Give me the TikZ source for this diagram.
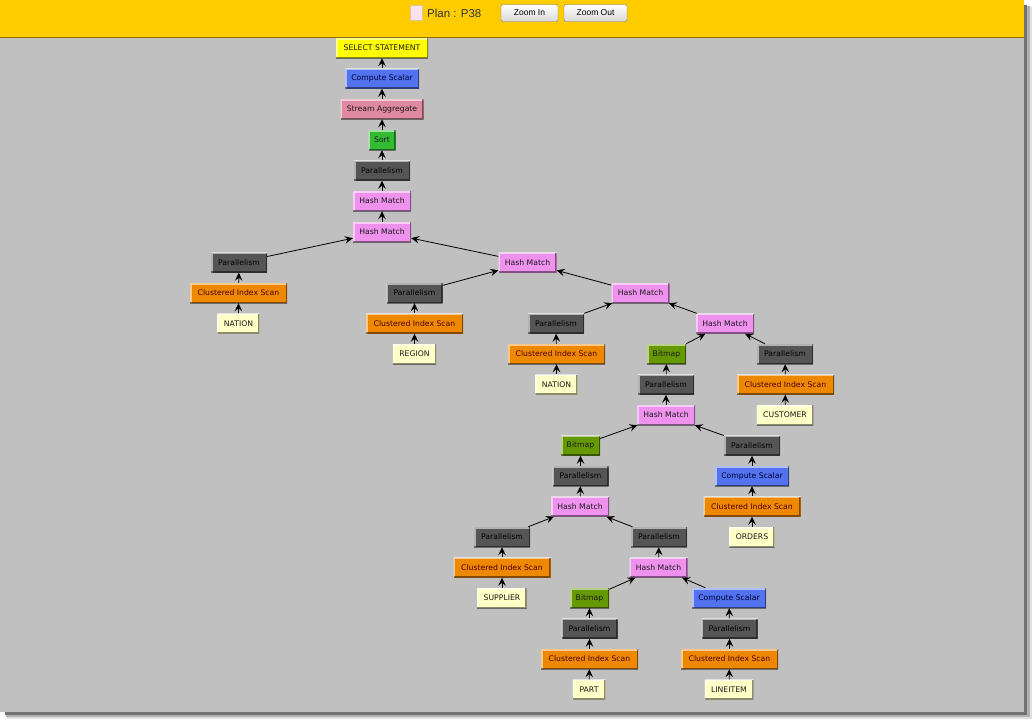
\documentclass[tikz,border=0pt]{standalone}
\usepackage{fontspec}
\setmainfont{DejaVu Sans}
\newfontfamily\hdrfont{Liberation Sans}
\usetikzlibrary{arrows.meta}
\definecolor{hdrY}{HTML}{FFCC00}
\definecolor{panelG}{HTML}{C0C0C0}
\definecolor{cSel}{HTML}{FFFF00}
\definecolor{cCS}{HTML}{5272EE}
\definecolor{cSA}{HTML}{E08AA2}
\definecolor{cSort}{HTML}{33BB33}
\definecolor{cPar}{HTML}{555555}
\definecolor{cHM}{HTML}{EE92EE}
\definecolor{cCIS}{HTML}{EE8800}
\definecolor{cTab}{HTML}{FFFFC8}
\definecolor{cBM}{HTML}{669900}
\tikzset{
  op/.style={minimum height=20pt, inner sep=0pt, font=\fontsize{7.7}{8}\selectfont, text=black!90,
    path picture={
      \draw[white,opacity=.55,line width=3pt] (path picture bounding box.south west) -- (path picture bounding box.north west) -- (path picture bounding box.north east);
      \draw[black,opacity=.45,line width=3pt] (path picture bounding box.south west) -- (path picture bounding box.south east) -- (path picture bounding box.north east);
    }},
  selbox/.style={op, fill=cSel, minimum width=92pt},
  csbox/.style={op, fill=cCS, minimum width=74pt, text=blue!20!black},
  sabox/.style={op, fill=cSA, minimum width=83pt},
  sortbox/.style={op, fill=cSort, minimum width=27pt},
  parbox/.style={op, fill=cPar, minimum width=56pt, text=black},
  hmbox/.style={op, fill=cHM, minimum width=58pt},
  cisbox/.style={op, fill=cCIS, minimum width=97pt, text=red!30!black},
  tabbox/.style={op, fill=cTab, inner xsep=6.5pt, minimum width=33pt},
  bmbox/.style={op, fill=cBM, minimum width=39pt},
  arr/.style={-{Stealth[length=8pt,width=7.5pt,inset=3pt]}, line width=0.8pt, black},
  btn/.style={draw=black!55, rounded corners=2pt, top color=white, bottom color=black!15, minimum width=#1, minimum height=17pt, inner sep=0pt, font=\hdrfont\fontsize{8.5}{9}\selectfont},
}
\begin{document}
\begin{tikzpicture}[x=1pt,y=-1pt]
\useasboundingbox (0,0) rectangle (1036,724);
\fill[white] (0,0) rectangle (1036,724);
% shadow
\fill[black!12] (7,7) rectangle (1032,719);
\fill[black!30] (6,6) rectangle (1030,717);
\fill[black!55] (5,5) rectangle (1027,715);
% panel
\fill[panelG] (0,37) rectangle (1024,712);
\fill[hdrY] (0,0) rectangle (1024,36.5);
\fill[black!45!hdrY] (0,36.5) rectangle (1024,38);
% header
\node[draw=hdrY!60!black!40, fill=magenta!12, minimum width=12pt, minimum height=15pt, inner sep=0pt] (sq) at (416.5,12.5) {};
\node[anchor=west, inner sep=0pt, font=\hdrfont\fontsize{11.5}{12}\selectfont, text=black!80] (plan) at (427,13) {Plan : P38};
\node[btn=57pt] (zin) at (529.5,13) {Zoom In};
\node[btn=63pt] (zout) at (595.5,13) {Zoom Out};
% nodes
\node[selbox] (sel) at (382,48) {SELECT STATEMENT};
\node[csbox] (cs1) at (382,78.5) {Compute Scalar};
\node[sabox] (sa) at (382,109) {Stream Aggregate};
\node[sortbox] (sort) at (382,140) {Sort};
\node[parbox] (par1) at (382,170.5) {Parallelism};
\node[hmbox] (hm1) at (382,201) {Hash Match};
\node[hmbox] (hm2) at (382,232) {Hash Match};
\node[parbox] (par2) at (239,262.5) {Parallelism};
\node[cisbox] (cis1) at (238.5,293) {Clustered Index Scan};
\node[tabbox] (nat1) at (238.5,323.5) {NATION};
\node[hmbox] (hm3) at (527.5,262.5) {Hash Match};
\node[parbox] (par3) at (414.5,293) {Parallelism};
\node[cisbox] (cis2) at (414.5,323.5) {Clustered Index Scan};
\node[tabbox] (reg) at (414.5,354) {REGION};
\node[hmbox] (hm4) at (640.5,293) {Hash Match};
\node[parbox] (par4) at (556,323.5) {Parallelism};
\node[cisbox] (cis3) at (556.5,354) {Clustered Index Scan};
\node[tabbox] (nat2) at (556.5,384.5) {NATION};
\node[hmbox] (hm5) at (725,323.5) {Hash Match};
\node[bmbox] (bm1) at (666.5,354) {Bitmap};
\node[parbox] (par5) at (785,354) {Parallelism};
\node[parbox] (par6) at (666,384.5) {Parallelism};
\node[cisbox] (cis4) at (785.5,384.5) {Clustered Index Scan};
\node[hmbox] (hm6) at (666,415) {Hash Match};
\node[tabbox] (cust) at (785,415) {CUSTOMER};
\node[bmbox] (bm2) at (580.5,445.5) {Bitmap};
\node[parbox] (par7) at (752,445.5) {Parallelism};
\node[parbox] (par8) at (580.5,476) {Parallelism};
\node[csbox] (cs2) at (752,476) {Compute Scalar};
\node[hmbox] (hm7) at (580,506.5) {Hash Match};
\node[cisbox] (cis5) at (752,506.5) {Clustered Index Scan};
\node[parbox] (par9) at (502,537) {Parallelism};
\node[tabbox] (ord) at (752,537) {ORDERS};
\node[parbox] (par10) at (659,537) {Parallelism};
\node[cisbox] (cis6) at (502,567.5) {Clustered Index Scan};
\node[hmbox] (hm8) at (658.5,567.5) {Hash Match};
\node[tabbox] (sup) at (502,598) {SUPPLIER};
\node[bmbox] (bm3) at (589.5,598) {Bitmap};
\node[csbox] (cs3) at (729,598) {Compute Scalar};
\node[parbox] (par11) at (589.5,628.5) {Parallelism};
\node[parbox] (par12) at (729.5,628.5) {Parallelism};
\node[cisbox] (cis7) at (589.5,659) {Clustered Index Scan};
\node[cisbox] (cis8) at (729.5,659) {Clustered Index Scan};
\node[tabbox] (part) at (589,689.5) {PART};
\node[tabbox] (li) at (729,689.5) {LINEITEM};
% edges
\draw[arr] (cs1) -- (sel);
\draw[arr] (sa) -- (cs1);
\draw[arr] (sort) -- (sa);
\draw[arr] (par1) -- (sort);
\draw[arr] (hm1) -- (par1);
\draw[arr] (hm2) -- (hm1);
\draw[arr] (par2) -- (hm2);
\draw[arr] (hm3) -- (hm2);
\draw[arr] (cis1) -- (par2);
\draw[arr] (nat1) -- (cis1);
\draw[arr] (par3) -- (hm3);
\draw[arr] (hm4) -- (hm3);
\draw[arr] (cis2) -- (par3);
\draw[arr] (reg) -- (cis2);
\draw[arr] (par4) -- (hm4);
\draw[arr] (hm5) -- (hm4);
\draw[arr] (cis3) -- (par4);
\draw[arr] (nat2) -- (cis3);
\draw[arr] (bm1) -- (hm5);
\draw[arr] (par5) -- (hm5);
\draw[arr] (par6) -- (bm1);
\draw[arr] (hm6) -- (par6);
\draw[arr] (cis4) -- (par5);
\draw[arr] (cust) -- (cis4);
\draw[arr] (bm2) -- (hm6);
\draw[arr] (par7) -- (hm6);
\draw[arr] (par8) -- (bm2);
\draw[arr] (hm7) -- (par8);
\draw[arr] (cs2) -- (par7);
\draw[arr] (cis5) -- (cs2);
\draw[arr] (ord) -- (cis5);
\draw[arr] (par9) -- (hm7);
\draw[arr] (par10) -- (hm7);
\draw[arr] (cis6) -- (par9);
\draw[arr] (sup) -- (cis6);
\draw[arr] (hm8) -- (par10);
\draw[arr] (bm3) -- (hm8);
\draw[arr] (cs3) -- (hm8);
\draw[arr] (par11) -- (bm3);
\draw[arr] (cis7) -- (par11);
\draw[arr] (part) -- (cis7);
\draw[arr] (par12) -- (cs3);
\draw[arr] (cis8) -- (par12);
\draw[arr] (li) -- (cis8);
\end{tikzpicture}
\end{document}
